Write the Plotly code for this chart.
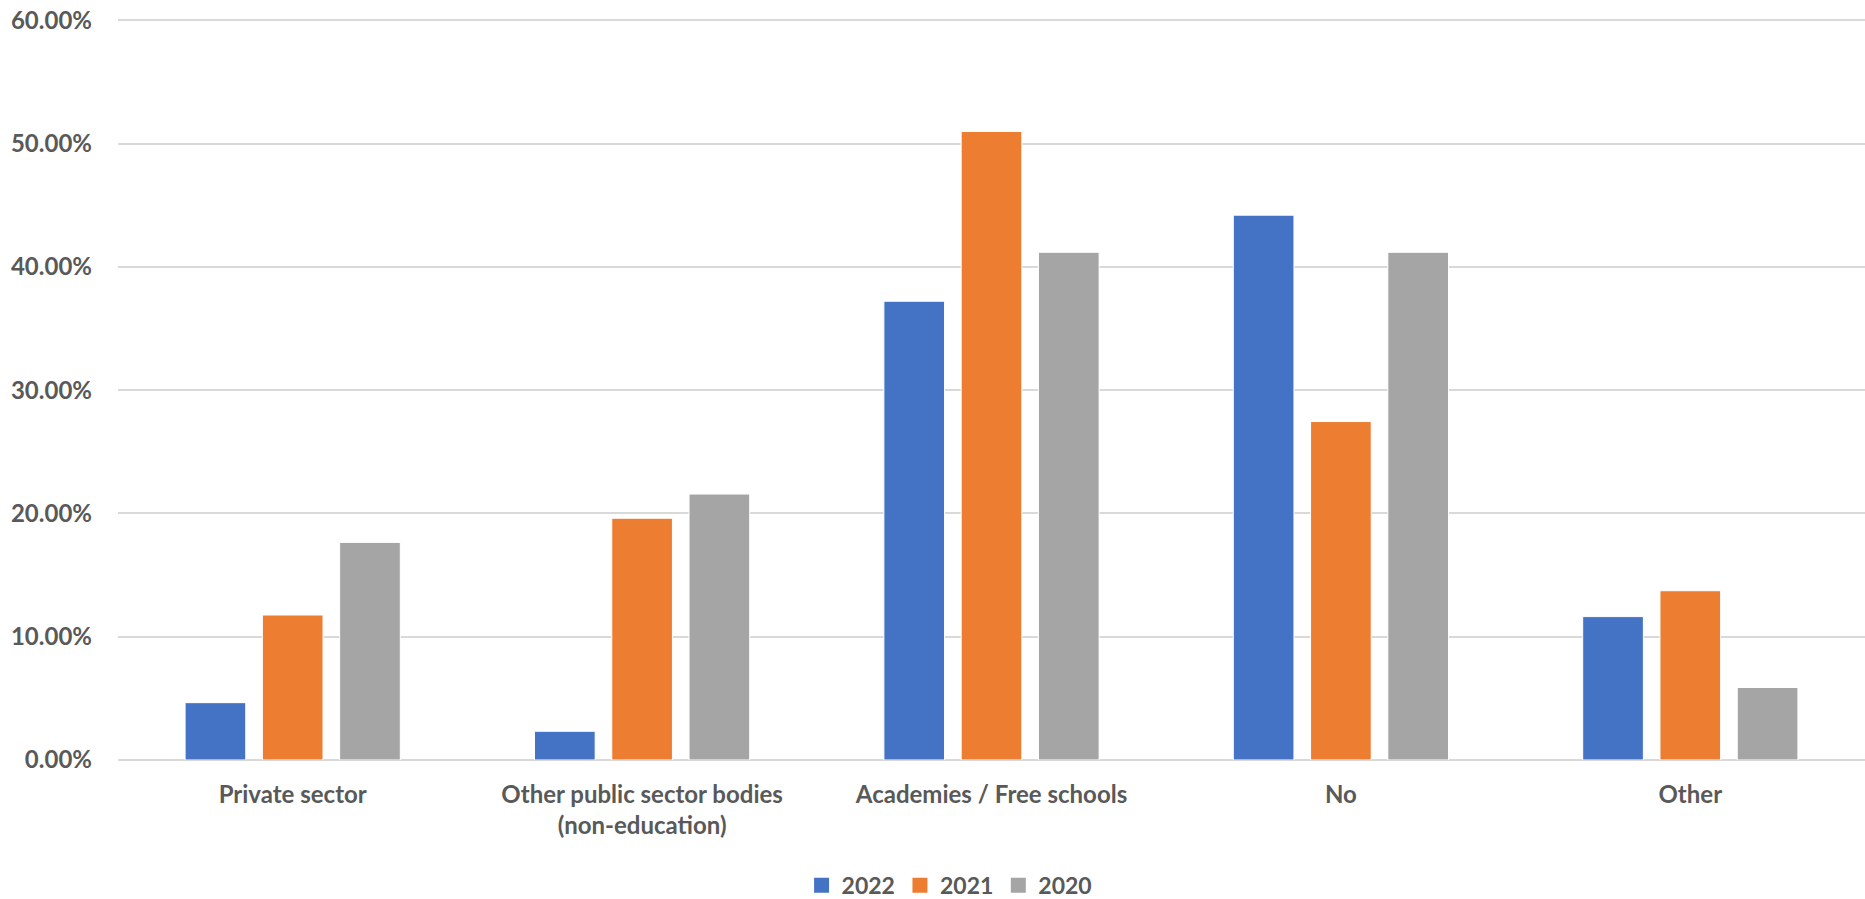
import plotly.graph_objects as go

categories = ["Private sector", "Other public sector bodies<br>(non-education)",
              "Academies / Free schools", "No", "Other"]
v2022 = [0.0465, 0.0233, 0.3721, 0.4419, 0.1163]
v2021 = [0.1176, 0.1961, 0.5098, 0.2745, 0.1373]
v2020 = [0.1765, 0.2157, 0.4118, 0.4118, 0.0588]
series_names = ["2022", "2021", "2020"]
colors = ["#4472C4", "#ED7D31", "#A5A5A5"]

FONT = "Lato"
TXT = "#595959"

fig = go.Figure()
for name, vals, col in zip(series_names, [v2022, v2021, v2020], colors):
    fig.add_trace(go.Bar(
        x=categories, y=vals, name=name, showlegend=False,
        marker=dict(color=col, line=dict(color="white", width=1)),
    ))
# legend entries with square swatches
for name, col in zip(series_names, colors):
    fig.add_trace(go.Scatter(
        x=[None], y=[None], mode="markers", name=name,
        marker=dict(symbol="square", size=15, color=col),
    ))

fig.update_layout(
    width=1865, height=899,
    margin=dict(l=118, r=0, t=19, b=139, autoexpand=False),
    paper_bgcolor="white", plot_bgcolor="white",
    barmode="group", bargap=0.3365, bargroupgap=0.215,
    font=dict(family=FONT, size=22, color=TXT),
    showlegend=True,
    legend=dict(orientation="h", xanchor="center", x=0.476, yanchor="middle", y=-0.169,
                font=dict(family=FONT, size=23, color=TXT, weight="bold"),
                itemwidth=30, traceorder="normal", tracegroupgap=0),
)
fig.update_yaxes(
    range=[0, 0.601], dtick=0.1, tickformat=".2%", automargin=False,
    showgrid=True, gridcolor="#D9D9D9", gridwidth=2,
    zeroline=True, zerolinecolor="#D9D9D9", zerolinewidth=2,
    showline=False, ticks="", ticklabelstandoff=25,
    tickfont=dict(family=FONT, size=24, color=TXT, weight="bold"),
)
fig.update_xaxes(
    range=[-0.5, 4.5], automargin=False,
    showgrid=False, showline=False, ticks="", ticklabelstandoff=18,
    tickfont=dict(family=FONT, size=24, color=TXT, weight="bold"),
)

fig.write_html(
    "out.html",
    config={"displayModeBar": False},
    post_script="document.body.style.margin='0';document.body.style.overflow='hidden';",
)
